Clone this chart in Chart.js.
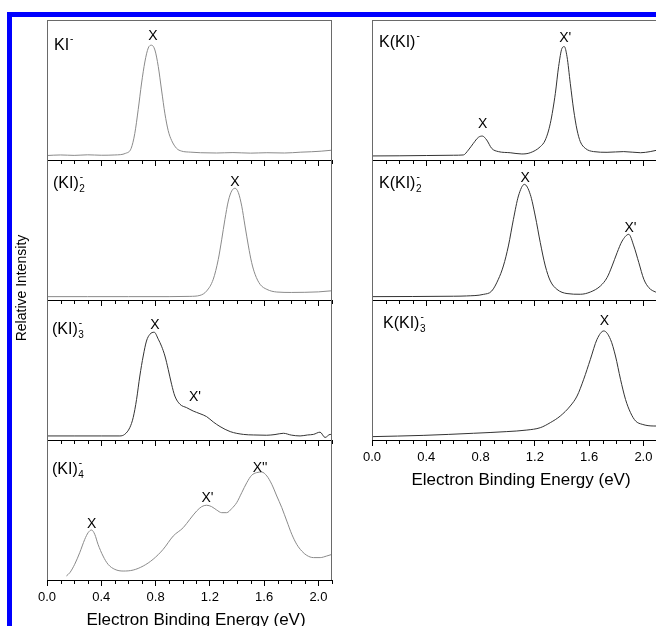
<!DOCTYPE html>
<html>
<head>
<meta charset="utf-8">
<script src="https://cdn.jsdelivr.net/npm/chart.js@4.4.1/dist/chart.umd.min.js"></script>
<style>
  html, body { margin: 0; padding: 0; background: #fff; }
  body { width: 656px; height: 626px; overflow: hidden; position: relative; }
  canvas { position: absolute; }
  .bar { position: absolute; background: #0000ff; }
</style>
</head>
<body>
<div class="bar" style="left:7px;top:12px;width:649px;height:5px;"></div>
<div class="bar" style="left:7px;top:12px;width:5px;height:614px;"></div>
<script>
// ---------- data ----------
const tickSteps = [0,0.1,0.2,0.3,0.4,0.5,0.6,0.7,0.8,0.9,1.0,1.1,1.2,1.3,1.4,1.5,1.6,1.7,1.8,1.9,2.0,2.1];
const tickValues = [0, 0.4, 0.8, 1.2, 1.6, 2.0];
const tickLabels = ['0.0', '0.4', '0.8', '1.2', '1.6', '2.0'];
const xTitle = 'Electron Binding Energy (eV)';
const yTitle = 'Relative Intensity';

// KI-
const ki1E = [0,0.1,0.2,0.3,0.4,0.5,0.58,0.62,0.647,0.672,0.697,0.721,0.746,0.77,0.795,0.82,0.844,0.869,0.893,0.918,0.955,0.99,1.06,1.13,1.25,1.37,1.5,1.62,1.75,1.87,1.95,2.02,2.1];
const ki1I = [3.2,3.6,3.3,3.7,3.4,3.6,4.8,8.3,19,36,55,70,80,82,78.6,66.7,50,33,21,14,8.3,6.4,5.6,5.2,5.0,5.3,4.9,5.2,5.0,5.6,5.9,6.3,7];
// (KI)2-
const ki2E = [0,0.3,0.6,0.9,1.053,1.127,1.176,1.225,1.262,1.287,1.311,1.336,1.361,1.385,1.41,1.435,1.459,1.484,1.508,1.533,1.57,1.62,1.693,1.8,1.9,2.0,2.1];
const ki2I = [2.4,2.4,2.4,2.4,2.6,3.3,6.4,14.8,29,43,57.6,70.7,77.9,79.8,76.7,67,52.9,38.6,26.7,18.4,11.2,7.6,5.7,5.4,5.5,5.8,6.6];
// (KI)3-
const ki3E = [0,0.2,0.4,0.537,0.572,0.61,0.635,0.66,0.684,0.709,0.733,0.758,0.79,0.82,0.844,0.869,0.893,0.918,0.942,0.98,1.029,1.077,1.127,1.176,1.225,1.275,1.35,1.447,1.52,1.619,1.68,1.742,1.8,1.865,1.92,1.963,2.012,2.049,2.086,2.1];
const ki3I = [2.9,2.9,2.9,2.9,4,8.8,16,29,45.7,60,70.7,75.5,77,72,67,60,50.5,39.8,31.4,25.5,23.1,20.7,18.8,16.7,12.9,9.6,6,4,3.6,3.4,3.9,4.8,3.5,2.9,3.6,4,5.6,1.8,4,3.8];
// (KI)4-
const ki4E = [0.143,0.168,0.204,0.241,0.278,0.303,0.328,0.352,0.376,0.413,0.45,0.5,0.561,0.635,0.709,0.782,0.856,0.93,1.004,1.053,1.103,1.14,1.176,1.213,1.25,1.287,1.324,1.361,1.398,1.435,1.472,1.508,1.545,1.582,1.62,1.656,1.693,1.73,1.767,1.804,1.84,1.877,1.914,1.963,2.013,2.06,2.1];
const ki4I = [2.9,5.2,11.2,19.5,29,33.8,35.7,32.6,25.5,17.1,11.2,7.6,6.4,7.1,10,14.8,21.9,31.4,37.4,43.4,49.3,52.4,53.4,52.4,50,48.1,48.1,51,55.3,62.4,69.5,74.8,76.7,77.1,74.3,68.4,60,51.7,42.1,32.6,25.5,20.7,17.6,16,16,17.1,18.3];
// K(KI)-
const kk1E = [0,0.2,0.4,0.6,0.673,0.71,0.747,0.784,0.813,0.845,0.882,0.931,1.018,1.104,1.166,1.24,1.277,1.314,1.351,1.375,1.4,1.417,1.437,1.461,1.486,1.511,1.535,1.572,1.633,1.732,1.855,1.979,2.05,2.1];
const kk1I = [2.9,3.0,3.2,3.4,3.6,7.1,11.9,16.2,17.1,14.3,8.3,6,5.2,4.3,5.2,9.5,14.3,26.2,47.6,66.7,79.8,81,73.8,54.8,35.7,21.4,13.1,8.3,6,5.5,6,5.2,6.0,7];
// K(KI)2-
const kk2E = [0,0.3,0.6,0.697,0.82,0.882,0.931,0.968,1.005,1.042,1.079,1.123,1.166,1.203,1.24,1.277,1.314,1.363,1.437,1.535,1.609,1.683,1.732,1.769,1.806,1.843,1.892,1.929,1.966,2.003,2.04,2.09,2.1];
const kk2I = [2.4,2.5,2.7,2.9,4,6.4,14.8,24.3,38.6,57.6,74.3,82.6,75.5,60,41,24.3,13.6,7.6,4.6,4.1,5.7,10,16,24.3,33.8,42.1,46.9,38.6,26.7,14.8,8.8,5.7,5.5];
// K(KI)3-
const kk3E = [0,0.377,0.747,0.993,1.141,1.24,1.314,1.387,1.461,1.511,1.56,1.609,1.658,1.708,1.757,1.794,1.831,1.868,1.905,1.942,1.991,2.077,2.1];
const kk3I = [2.4,3.3,4.8,6,7.1,8.8,12.4,17.1,24.3,31.4,43.4,57.6,71.9,77.9,71.9,60,43.4,29,19.5,13.6,11.2,10,10];

// panel names (main text, subscript); all carry a superscript minus
const panelMain = ['KI', '(KI)', '(KI)', '(KI)', 'K(KI)', 'K(KI)', 'K(KI)'];
const panelSub  = ['', '2', '3', '4', '', '2', '3'];
// peak labels per panel: [text, energy, intensity]
const peakLabels = [
  [['X', 0.78, 86]],
  [['X', 1.385, 81.5]],
  [['X', 0.795, 79.5], ["X'", 1.09, 28]],
  [['X', 0.33, 37], ["X'", 1.182, 56], ["X''", 1.57, 77.5]],
  [['X', 0.815, 22.6], ["X'", 1.424, 84]],
  [['X', 1.129, 84], ["X'", 1.905, 48.6]],
  [['X', 1.713, 82]]
];

// ---------- layout ----------
const FONT = '"Liberation Sans", Arial, Helvetica, sans-serif';
const PANEL_H = 140, BELOW = 50, PLOT_W = 285;
const panels = [
  { E: ki1E, I: ki1I, col: 'L', row: 0, color: '#8a8a8a', lab: [7, 30] },
  { E: ki2E, I: ki2I, col: 'L', row: 1, color: '#8a8a8a', lab: [6, 28] },
  { E: ki3E, I: ki3I, col: 'L', row: 2, color: '#333333', lab: [5, 34] },
  { E: ki4E, I: ki4I, col: 'L', row: 3, color: '#8a8a8a', lab: [5, 34], bottom: true },
  { E: kk1E, I: kk1I, col: 'R', row: 0, color: '#333333', lab: [7, 27] },
  { E: kk2E, I: kk2I, col: 'R', row: 1, color: '#333333', lab: [7, 28] },
  { E: kk3E, I: kk3I, col: 'R', row: 2, color: '#333333', lab: [11, 28], bottom: true }
];
const cols = { L: { plotLeft: 47, padL: 47, padR: 30 }, R: { plotLeft: 372, padL: 40, padR: 30 } };

function isMajor(v) { return tickValues.some(t => Math.abs(t - v) < 1e-6); }
function labelFor(v) { const i = tickValues.findIndex(t => Math.abs(t - v) < 1e-6); return i >= 0 ? tickLabels[i] : ''; }

function drawRich(ctx, x, y, main, sub, size) {
  ctx.fillStyle = '#000';
  ctx.textAlign = 'left';
  ctx.textBaseline = 'alphabetic';
  ctx.font = size + 'px ' + FONT;
  ctx.fillText(main, x, y);
  const w = ctx.measureText(main).width;
  ctx.font = '10px ' + FONT;
  if (sub) ctx.fillText(sub, x + w + 0.5, y + 4);
  ctx.fillText('-', x + w + 1, y - 8);
}

const decor = {
  id: 'decor',
  afterDraw(chart) {
    const o = chart.options.plugins.decor;
    const { ctx, chartArea: a, scales: { x, y } } = chart;
    ctx.save();
    // frame
    ctx.lineWidth = 1;
    ctx.strokeStyle = '#6a6a6a';
    ctx.beginPath();
    ctx.moveTo(a.left + 0.5, a.top); ctx.lineTo(a.left + 0.5, a.bottom);
    ctx.moveTo(a.right - 0.5, a.top); ctx.lineTo(a.right - 0.5, a.bottom);
    if (o.row === 0) { ctx.moveTo(a.left, a.top + 0.5); ctx.lineTo(a.right, a.top + 0.5); }
    ctx.stroke();
    // minor ticks
    ctx.strokeStyle = '#000';
    ctx.beginPath();
    tickSteps.forEach(v => {
      if (isMajor(v)) return;
      const px = Math.round(x.getPixelForValue(v)) + 0.5;
      ctx.moveTo(px, a.bottom); ctx.lineTo(px, a.bottom + 4);
    });
    ctx.stroke();
    // panel name
    drawRich(ctx, a.left + o.lab[0], a.top + o.lab[1], panelMain[o.idx], panelSub[o.idx], 16);
    // peak labels
    ctx.font = '14px ' + FONT;
    ctx.textAlign = 'center';
    ctx.textBaseline = 'alphabetic';
    ctx.fillStyle = '#000';
    peakLabels[o.idx].forEach(([t, e, v]) => {
      ctx.fillText(t, x.getPixelForValue(e), y.getPixelForValue(v));
    });
    // axis title
    if (o.bottom) {
      ctx.font = '17px ' + FONT;
      ctx.textAlign = 'center';
      ctx.fillText(xTitle, a.left + 149, a.bottom + 45);
    }
    // y title (drawn once, on the second left panel)
    if (o.col === 'L' && o.row === 1) {
      ctx.save();
      ctx.translate(22 - (cols.L.plotLeft - cols.L.padL), 288 - 160);
      ctx.rotate(-Math.PI / 2);
      ctx.font = '14px ' + FONT;
      ctx.textAlign = 'center';
      ctx.textBaseline = 'middle';
      ctx.fillText(yTitle, 0, 0);
      ctx.restore();
    }
    ctx.restore();
  }
};

panels.forEach((p, idx) => {
  const c = cols[p.col];
  const cv = document.createElement('canvas');
  const W = PLOT_W + c.padL + c.padR, H = PANEL_H + BELOW;
  cv.width = W; cv.height = H;
  cv.style.width = W + 'px'; cv.style.height = H + 'px';
  cv.style.left = (c.plotLeft - c.padL) + 'px';
  cv.style.top = (20 + p.row * PANEL_H) + 'px';
  document.body.appendChild(cv);
  new Chart(cv, {
    type: 'line',
    data: {
      datasets: [{
        data: p.E.map((e, i) => ({ x: e, y: p.I[i] })),
        borderColor: p.color,
        borderWidth: 1,
        pointRadius: 0,
        fill: false,
        tension: 0.4,
        cubicInterpolationMode: 'monotone'
      }]
    },
    options: {
      responsive: false,
      animation: false,
      devicePixelRatio: 1,
      layout: { padding: { left: c.padL, right: c.padR, top: 0, bottom: 0 } },
      plugins: {
        legend: { display: false },
        tooltip: { enabled: false },
        decor: { idx, row: p.row, col: p.col, lab: p.lab, bottom: !!p.bottom }
      },
      scales: {
        x: {
          type: 'linear', min: 0, max: 2.1, position: 'bottom',
          afterBuildTicks: s => { s.ticks = tickSteps.map(v => ({ value: v })); },
          afterFit: s => { s.height = BELOW; s.paddingLeft = 0; s.paddingRight = 0; },
          border: { display: true, color: '#000', width: 1 },
          grid: {
            display: true, drawOnChartArea: false, drawTicks: true, tickLength: 6,
            color: ctx => (ctx.tick && isMajor(ctx.tick.value)) ? '#000' : 'rgba(0,0,0,0)'
          },
          ticks: {
            display: !!p.bottom, autoSkip: false, maxRotation: 0, minRotation: 0, padding: 4,
            color: '#000', font: { family: FONT, size: 13 },
            callback: v => labelFor(v)
          }
        },
        y: { display: false, min: 0, max: 100 }
      }
    },
    plugins: [decor]
  });
});
</script>
</body>
</html>
